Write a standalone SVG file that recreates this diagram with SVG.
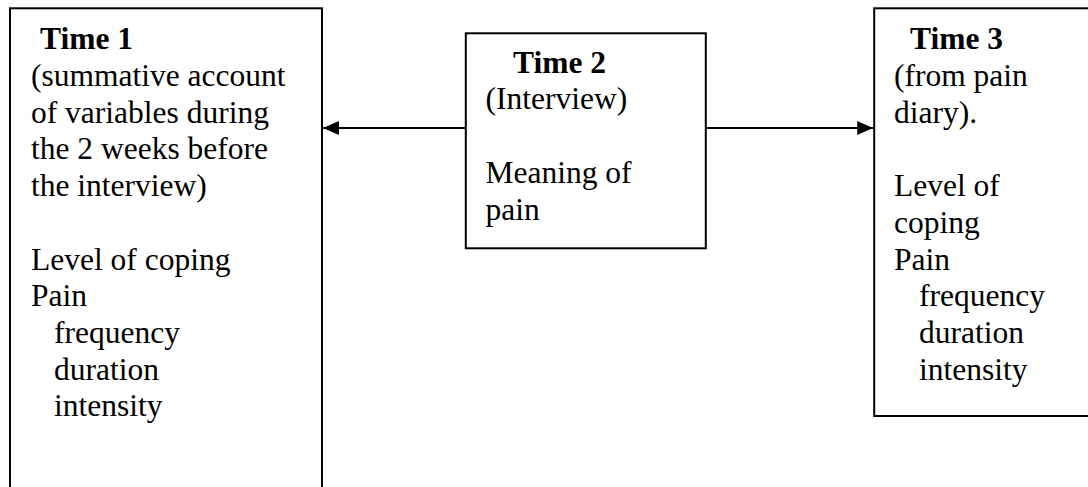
<svg xmlns="http://www.w3.org/2000/svg" width="1088" height="487" viewBox="0 0 1088 487">
<style>
.box{fill:#fff;stroke:#000;stroke-width:2}
.t{font-family:"Liberation Serif","Times New Roman",serif;font-size:31.5px;fill:#000}
.b{font-weight:bold}
.conn{stroke:#000;stroke-width:2.2;fill:none}
</style>
<defs>
<marker id="ah" viewBox="0 0 16 14" refX="16" refY="7" markerWidth="16" markerHeight="14" markerUnits="userSpaceOnUse" orient="auto">
<path d="M0,0 L16,7 L0,14 Z" fill="#000"/>
</marker>
</defs>
<rect width="1088" height="487" fill="#fff"/>
<g id="time1">
<rect class="box" x="10" y="8.3" width="312" height="500"/>
<text class="t b" x="40" y="49.3">Time 1</text>
<text class="t" x="31" y="86">(summative account</text>
<text class="t" x="31" y="122.7">of variables during</text>
<text class="t" x="31" y="159.4">the 2 weeks before</text>
<text class="t" x="31" y="196.1">the interview)</text>
<text class="t" x="31" y="269.5">Level of coping</text>
<text class="t" x="31" y="306.2">Pain</text>
<text class="t" x="54" y="342.9">frequency</text>
<text class="t" x="54" y="379.6">duration</text>
<text class="t" x="54" y="416.3">intensity</text>
</g>
<g id="time2">
<rect class="box" x="465.8" y="33.3" width="240" height="215"/>
<text class="t b" x="513" y="72.7">Time 2</text>
<text class="t" x="485.5" y="109.4">(Interview)</text>
<text class="t" x="485.5" y="182.8">Meaning of</text>
<text class="t" x="485.5" y="219.5">pain</text>
</g>
<g id="time3">
<rect class="box" x="874.2" y="8.3" width="230" height="407.7"/>
<text class="t b" x="910" y="49.3">Time 3</text>
<text class="t" x="894" y="86">(from pain</text>
<text class="t" x="894" y="122.7">diary).</text>
<text class="t" x="894" y="196.1">Level of</text>
<text class="t" x="894" y="232.8">coping</text>
<text class="t" x="894" y="269.5">Pain</text>
<text class="t" x="919" y="306.2">frequency</text>
<text class="t" x="919" y="342.9">duration</text>
<text class="t" x="919" y="379.6">intensity</text>
</g>
<g id="connectors">
<line class="conn" x1="465.8" y1="128" x2="323" y2="128" marker-end="url(#ah)"/>
<line class="conn" x1="705.8" y1="128" x2="873.2" y2="128" marker-end="url(#ah)"/>
</g>
</svg>
